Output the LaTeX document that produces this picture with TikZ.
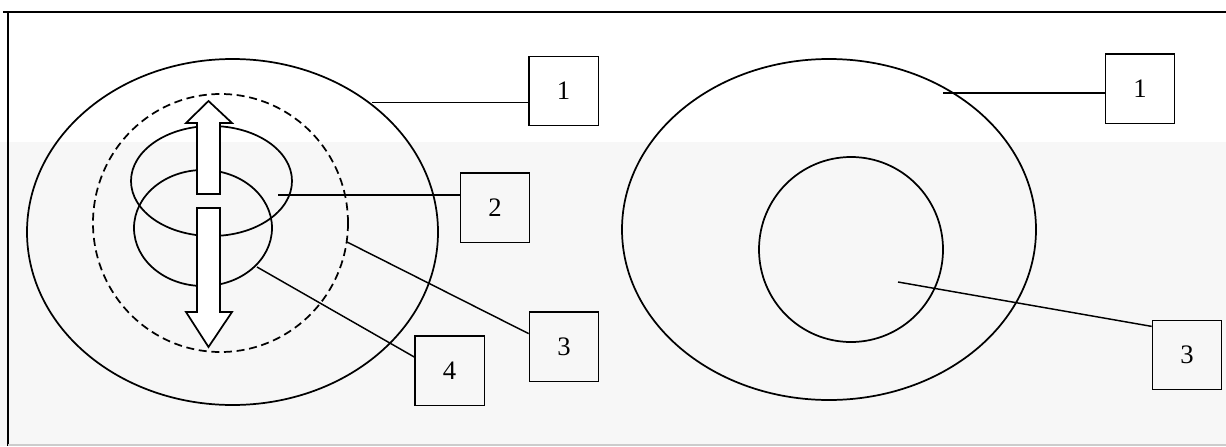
\documentclass[tikz,border=0pt]{standalone}
\usepackage{fontspec}
\setmainfont{Liberation Serif}
\begin{document}
\begin{tikzpicture}[x=0.75pt,y=-0.75pt,
  lbl/.style={draw, line width=1pt, minimum width=52pt, minimum height=52pt, inner sep=0pt, font=\fontsize{20}{22}\selectfont},
  shapeline/.style={line width=1.3pt},
  leader/.style={line width=1.1pt},
  bigarrow/.style={draw, line width=1.3pt, fill=white, line join=miter}]
\useasboundingbox (0,0) rectangle (1226,446);
\fill[black!3] (0,142) rectangle (1226,446);
% frame
\draw[line width=1.6pt] (3,12) -- (1226,12);
\draw[line width=1.6pt] (8,12) -- (8,446);
\draw[black!20, line width=1pt] (8,445) -- (1226,445);
% left figure
\draw[shapeline] (232.5,232) ellipse [x radius=205.5, y radius=173];
\draw[shapeline, dash pattern=on 6pt off 3.5pt] (220.5,223) ellipse [x radius=127.5, y radius=129];
\draw[shapeline] (211.5,181) ellipse [x radius=80.5, y radius=55];
\draw[shapeline] (203,228) ellipse [x radius=69, y radius=58];
\draw[bigarrow] (197,194) -- (197,123) -- (186,123) -- (208.5,101) -- (232,123) -- (220,123) -- (220,194) -- cycle;
\draw[bigarrow] (197,208) -- (220,208) -- (220,312) -- (232,312) -- (208.5,347) -- (186,312) -- (197,312) -- cycle;
% right figure
\draw[shapeline] (829,229.5) ellipse [x radius=207, y radius=170.5];
\draw[shapeline] (851,249.5) ellipse [x radius=92, y radius=92.5];
% label boxes
\node[lbl] (L1) at (563.5,91) {1};
\node[lbl] (L2) at (495,207.5) {2};
\node[lbl] (L3) at (564,346.5) {3};
\node[lbl] (L4) at (449.5,370.5) {4};
\node[lbl] (R1) at (1140,88.5) {1};
\node[lbl] (R3) at (1187,355) {3};
% leader start points
\coordinate (p1) at (372,102.5);
\coordinate (p2) at (278,195);
\coordinate (p3) at (347,242);
\coordinate (p4) at (257,267);
\coordinate (q1) at (943,93);
\coordinate (q3) at (898,282);
% leaders
\draw[leader] (p1) -- (p1 -| L1.west);
\draw[leader] (p2) -- (p2 -| L2.west);
\draw[leader] (p3) -- (L3.160);
\draw[leader] (p4) -- (L4.159);
\draw[leader] (q1) -- (q1 -| R1.west);
\draw[leader] (q3) -- (R3.141);
\end{tikzpicture}
\end{document}
